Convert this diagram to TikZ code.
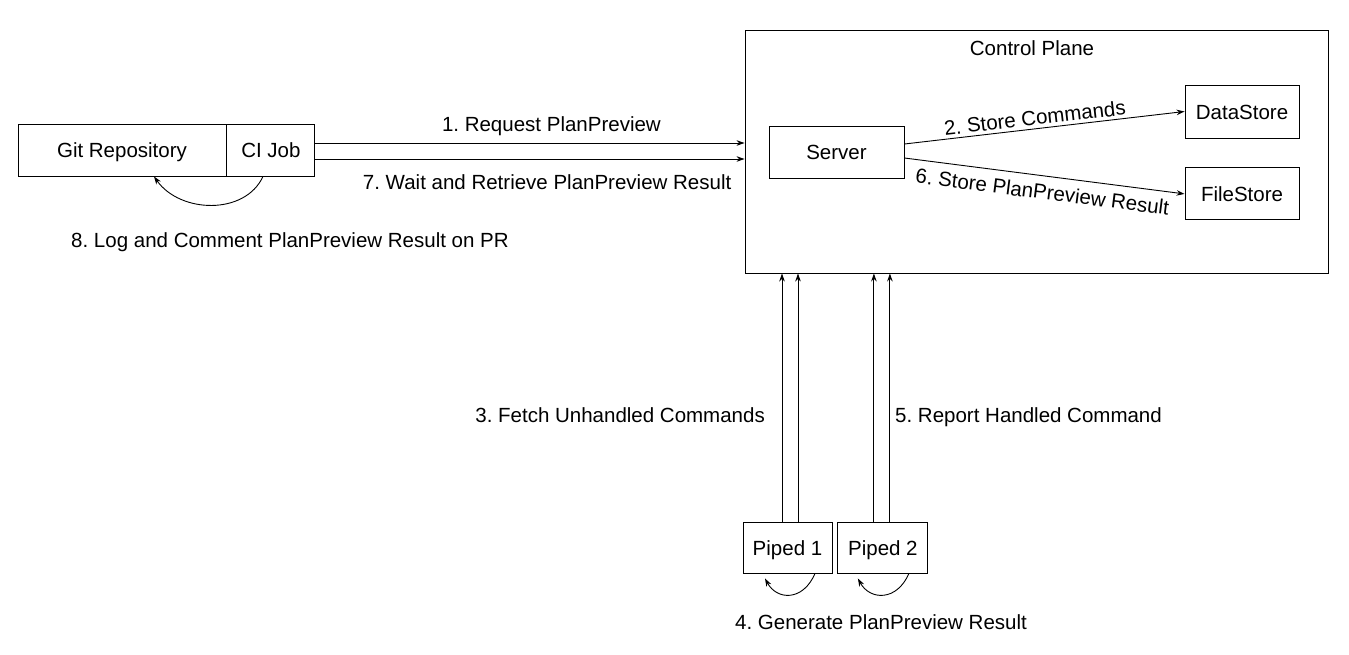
\documentclass[tikz,border=0pt]{standalone}
\usepackage{fontspec}
\setmainfont{Liberation Sans}
\usetikzlibrary{positioning,arrows.meta}
\frenchspacing

\begin{document}
\begin{tikzpicture}[
	x=1pt, y=-1pt,
	every node/.style={font=\fontsize{20.5}{24}\selectfont},
	box/.style = {
		draw, rectangle,
		inner sep=0pt,
		line width=0.9pt,
		minimum height = 52pt,
		text height=15pt, text depth=0pt,
		text centered,
	},
	txt/.style={inner sep=0pt},
	link/.style={-{Stealth[length=8pt,width=5.5pt]}, line width=0.9pt},
	node distance=5pt
]
\useasboundingbox (0,0) rectangle (1349,654);

% repository side
\node [box, minimum width=208pt] (git) at (122,150) {Git Repository};
\node [box, minimum width=88pt, right=0pt of git] (ci) {CI Job};

% Control Plane box
\node [box, minimum width=583pt, minimum height=243pt] (cp) at (1036.5,151.5) {};
\node [txt, anchor=base] (cptitle) at (1032,55.5) {Control Plane};
\node [box, minimum width=135pt] (server) at (836.5,152) {Server};
\node [box, minimum width=114pt, minimum height=53pt] (data) at (1242,111.5) {DataStore};
\node [box, minimum width=114pt, below=29pt of data] (file) {FileStore};

% Piped agents
\node [box, minimum width=89pt, minimum height=51pt] (p1) at (787.5,547.5) {Piped 1};
\node [box, minimum width=90pt, minimum height=51pt, right=5pt of p1] (p2) {Piped 2};

% CI <-> Control Plane
\draw[link] ([yshift=7pt]ci.east) -- ([yshift=7pt]ci.east -| cp.west)
	node[txt, pos=0.55, above=7pt] (l1) {1. Request PlanPreview};
\draw[link] ([yshift=-9pt]ci.east) -- ([yshift=-9pt]ci.east -| cp.west)
	node[txt, pos=0.54, below=15pt] (l7) {7. Wait and Retrieve PlanPreview Result};
\draw[link] ([xshift=141pt]git.south) .. controls +(-18,39) and +(26,37) .. ([xshift=32pt]git.south);
\node [txt, anchor=base] (l8) at (290,247) {8. Log and Comment PlanPreview Result on PR};

% Server -> stores
\draw[link] ([yshift=8pt]server.east) -- (data.west)
	node[txt, pos=0.47, sloped, above=3pt] (l2) {2. Store Commands};
\draw[link] ([yshift=-6pt]server.east) -- (file.west)
	node[txt, pos=0.5, sloped, below=8pt] (l6) {6. Store PlanPreview Result};

% Piped -> Control Plane
\draw[link] ([xshift=-5.5pt]p1.north) -- ([xshift=-5.5pt]p1.north |- cp.south);
\draw[link] ([xshift=10.5pt]p1.north) -- ([xshift=10.5pt]p1.north |- cp.south);
\draw[link] ([xshift=-9pt]p2.north) -- ([xshift=-9pt]p2.north |- cp.south);
\draw[link] ([xshift=7pt]p2.north) -- ([xshift=7pt]p2.north |- cp.south);
\node [txt, anchor=base east] (l3) at (765,422.5) {3. Fetch Unhandled Commands};
\node [txt, anchor=base west] (l5) at (895,422.5) {5. Report Handled Command};

% Piped loops
\draw[link] ([xshift=27.5pt]p1.south) .. controls +(-12,28) and +(12,22) .. ([xshift=-22.5pt,yshift=-5pt]p1.south);
\draw[link] ([xshift=26pt]p2.south) .. controls +(-12,28) and +(12,22) .. ([xshift=-25pt,yshift=-5pt]p2.south);
\node [txt, anchor=base] (l4) at (881,629.5) {4. Generate PlanPreview Result};

\end{tikzpicture}
\end{document}
